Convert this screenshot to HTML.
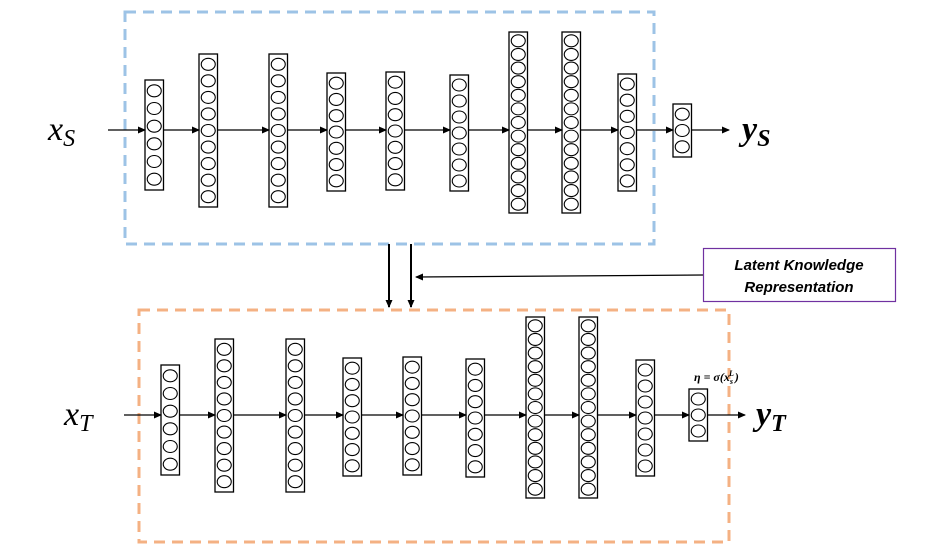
<!DOCTYPE html>
<html><head><meta charset="utf-8"><style>
body{margin:0;background:#fff;width:939px;height:553px;overflow:hidden}
svg{display:block}
.t{font-family:"Liberation Serif",serif;font-style:italic}
</style></head><body>
<svg id="s" width="939" height="553" xmlns="http://www.w3.org/2000/svg">
<defs><marker id="a" markerWidth="8" markerHeight="8" refX="7" refY="4" orient="auto" markerUnits="userSpaceOnUse"><path d="M0,0.5 L8,4 L0,7.5z" fill="#000"/></marker></defs>
<rect x="125" y="12" width="529" height="232" fill="none" stroke="#9dc3e6" stroke-width="3" stroke-dasharray="11,7"/>
<rect x="139" y="310" width="590" height="232" fill="none" stroke="#f4b183" stroke-width="3" stroke-dasharray="11,7"/>
<g id="g"></g>
<line x1="389" y1="244" x2="389" y2="307" stroke="#000" stroke-width="2" marker-end="url(#a)"/>
<line x1="411" y1="244" x2="411" y2="307" stroke="#000" stroke-width="2" marker-end="url(#a)"/>
<line x1="703" y1="275" x2="416" y2="277" stroke="#000" stroke-width="1.2" marker-end="url(#a)"/>
<rect x="703.5" y="248.5" width="192" height="53" fill="#fff" stroke="#7030a0" stroke-width="1.2"/>
<text x="799" y="270" text-anchor="middle" font-family="Liberation Sans,sans-serif" font-weight="bold" font-style="italic" font-size="15">Latent Knowledge</text>
<text x="799" y="292" text-anchor="middle" font-family="Liberation Sans,sans-serif" font-weight="bold" font-style="italic" font-size="15">Representation</text>
<text class="t" x="48" y="140" font-size="34">x<tspan font-size="24" dy="6">S</tspan></text>
<text class="t" x="742" y="140" font-size="34" font-weight="bold">y<tspan font-size="24" dy="6">S</tspan></text>
<text class="t" x="64" y="425" font-size="34">x<tspan font-size="24" dy="6">T</tspan></text>
<text class="t" x="756" y="425" font-size="34" font-weight="bold">y<tspan font-size="24" dy="6">T</tspan></text>
<text class="t" x="694" y="381" font-size="12" font-weight="bold">η = σ(x<tspan font-size="8" dy="3">s</tspan><tspan font-size="8" dy="-8" dx="-4">L</tspan><tspan dy="5" dx="1">)</tspan></text>
</svg>
<script>
var g=document.getElementById('g'),h='';
function net(cols,ay,inX,outX){
 for(var i=0;i<cols.length;i++){var c=cols[i],x=c[0],y1=c[1],y2=c[2],n=c[3],w=18.5;
  h+='<rect x="'+x+'" y="'+y1+'" width="'+w+'" height="'+(y2-y1)+'" fill="#fff" stroke="#000" stroke-width="1.3"/>';
  var st=(y2-y1-4)/n;
  for(var k=0;k<n;k++)h+='<ellipse cx="'+(x+w/2)+'" cy="'+(y1+2+st*(k+0.5))+'" rx="7" ry="'+Math.min(6,st/2-0.5)+'" fill="none" stroke="#000" stroke-width="1.1"/>';
  var from=i==0?inX:cols[i-1][0]+w;
  h+='<line x1="'+from+'" y1="'+ay+'" x2="'+x+'" y2="'+ay+'" stroke="#000" stroke-width="1.2" marker-end="url(#a)"/>';
 }
 var l=cols[cols.length-1];
 h+='<line x1="'+(l[0]+18.5)+'" y1="'+ay+'" x2="'+outX+'" y2="'+ay+'" stroke="#000" stroke-width="1.2" marker-end="url(#a)"/>';
}
net([[145,80,190,6],[199,54,207,9],[269,54,207,9],[327,73,191,7],[386,72,190,7],[450,75,191,7],[509,32,213,13],[562,32,213,13],[618,74,191,7],[673,104,157,3]],130,108,729);
net([[161,365,475,6],[215,339,492,9],[286,339,492,9],[343,358,476,7],[403,357,475,7],[466,359,477,7],[526,317,498,13],[579,317,498,13],[636,360,476,7],[689,389,441,3]],415,124,745);
g.innerHTML=h;
</script>
</body></html>
